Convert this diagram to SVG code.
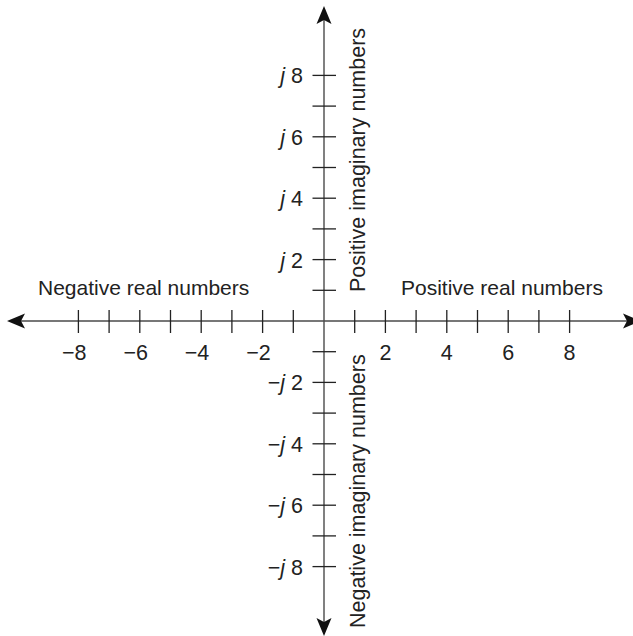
<svg xmlns="http://www.w3.org/2000/svg" width="633" height="636" viewBox="0 0 633 636">
<style>
.axis{stroke:#4a4a4a;stroke-width:1.4;fill:none}
.tick{stroke:#222;stroke-width:1.3}
.arrow{fill:#111}
text{font-family:"Liberation Sans",Arial,sans-serif;font-size:21px;fill:#222}
.ht{text-anchor:middle}
.vt{text-anchor:end}
.big{font-size:21.5px}
</style>
<rect width="633" height="636" fill="#fff"/>
<g id="connectors">
<line class="axis" x1="12" y1="321" x2="636" y2="321"/>
<line class="axis" x1="324" y1="12" x2="324" y2="630"/>
<path class="arrow" d="M7,321 L25,313.5 L21,321 L25,328.5 Z"/>
<path class="arrow" d="M641,321 L623,313.5 L627,321 L623,328.5 Z"/>
<path class="arrow" d="M324,6 L316.5,24 L324,20 L331.5,24 Z"/>
<path class="arrow" d="M324,636 L316.5,618 L324,622 L331.5,618 Z"/>
<g id="xticks">
<line class="tick" x1="78.4" y1="310" x2="78.4" y2="333"/>
<line class="tick" x1="109.1" y1="310" x2="109.1" y2="333"/>
<line class="tick" x1="139.8" y1="310" x2="139.8" y2="333"/>
<line class="tick" x1="170.5" y1="310" x2="170.5" y2="333"/>
<line class="tick" x1="201.2" y1="310" x2="201.2" y2="333"/>
<line class="tick" x1="231.9" y1="310" x2="231.9" y2="333"/>
<line class="tick" x1="262.6" y1="310" x2="262.6" y2="333"/>
<line class="tick" x1="293.3" y1="310" x2="293.3" y2="333"/>
<line class="tick" x1="354.7" y1="310" x2="354.7" y2="333"/>
<line class="tick" x1="385.4" y1="310" x2="385.4" y2="333"/>
<line class="tick" x1="416.1" y1="310" x2="416.1" y2="333"/>
<line class="tick" x1="446.8" y1="310" x2="446.8" y2="333"/>
<line class="tick" x1="477.5" y1="310" x2="477.5" y2="333"/>
<line class="tick" x1="508.2" y1="310" x2="508.2" y2="333"/>
<line class="tick" x1="538.9" y1="310" x2="538.9" y2="333"/>
<line class="tick" x1="569.6" y1="310" x2="569.6" y2="333"/>
</g>
<g id="yticks">
<line class="tick" x1="312.5" y1="75.4" x2="336" y2="75.4"/>
<line class="tick" x1="312.5" y1="106.1" x2="336" y2="106.1"/>
<line class="tick" x1="312.5" y1="136.8" x2="336" y2="136.8"/>
<line class="tick" x1="312.5" y1="167.5" x2="336" y2="167.5"/>
<line class="tick" x1="312.5" y1="198.2" x2="336" y2="198.2"/>
<line class="tick" x1="312.5" y1="228.9" x2="336" y2="228.9"/>
<line class="tick" x1="312.5" y1="259.6" x2="336" y2="259.6"/>
<line class="tick" x1="312.5" y1="290.3" x2="336" y2="290.3"/>
<line class="tick" x1="312.5" y1="351.7" x2="336" y2="351.7"/>
<line class="tick" x1="312.5" y1="382.4" x2="336" y2="382.4"/>
<line class="tick" x1="312.5" y1="413.1" x2="336" y2="413.1"/>
<line class="tick" x1="312.5" y1="443.8" x2="336" y2="443.8"/>
<line class="tick" x1="312.5" y1="474.5" x2="336" y2="474.5"/>
<line class="tick" x1="312.5" y1="505.2" x2="336" y2="505.2"/>
<line class="tick" x1="312.5" y1="535.9" x2="336" y2="535.9"/>
<line class="tick" x1="312.5" y1="566.6" x2="336" y2="566.6"/>
</g>
</g>
<g id="x-labels">
<text class="vt big" x="86.5" y="360">−8</text>
<text class="vt big" x="147.9" y="360">−6</text>
<text class="vt big" x="209.3" y="360">−4</text>
<text class="vt big" x="270.7" y="360">−2</text>
<text class="ht big" x="385.4" y="360">2</text>
<text class="ht big" x="446.8" y="360">4</text>
<text class="ht big" x="508.2" y="360">6</text>
<text class="ht big" x="569.6" y="360">8</text>
</g>
<g id="y-labels">
<text class="vt big" x="303" y="83.4"><tspan font-style="italic">j</tspan> 8</text>
<text class="vt big" x="303" y="144.8"><tspan font-style="italic">j</tspan> 6</text>
<text class="vt big" x="303" y="206.2"><tspan font-style="italic">j</tspan> 4</text>
<text class="vt big" x="303" y="267.6"><tspan font-style="italic">j</tspan> 2</text>
<text class="vt big" x="303" y="390.4">−<tspan font-style="italic">j</tspan> 2</text>
<text class="vt big" x="303" y="451.8">−<tspan font-style="italic">j</tspan> 4</text>
<text class="vt big" x="303" y="513.2">−<tspan font-style="italic">j</tspan> 6</text>
<text class="vt big" x="303" y="574.6">−<tspan font-style="italic">j</tspan> 8</text>
</g>
<g id="neg-real"><text x="38" y="295">Negative real numbers</text></g>
<g id="pos-real"><text x="401" y="295">Positive real numbers</text></g>
<g id="pos-imag"><text class="big" transform="translate(364.5,292) rotate(-90)">Positive imaginary numbers</text></g>
<g id="neg-imag"><text class="big" transform="translate(364.5,628) rotate(-90)">Negative imaginary numbers</text></g>
</svg>
